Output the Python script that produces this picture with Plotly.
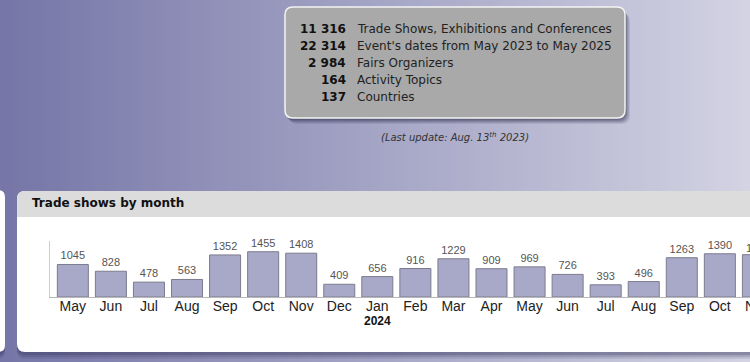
import plotly.graph_objects as go

# ---- data ----
months = ["May", "Jun", "Jul", "Aug", "Sep", "Oct", "Nov", "Dec",
          "Jan", "Feb", "Mar", "Apr", "May", "Jun", "Jul", "Aug", "Sep", "Oct", "Nov"]
shows = [1045, 828, 478, 563, 1352, 1455, 1408, 409,
         656, 916, 1229, 909, 969, 726, 393, 496, 1263, 1390, 1361]
year_labels = {8: "2024"}

stat_numbers = ["11 316", "22 314", "2 984", "164", "137"]
stat_labels = ["Trade Shows, Exhibitions and Conferences",
               "Event's dates from May 2023 to May 2025",
               "Fairs Organizers", "Activity Topics", "Countries"]
panel_title = "Trade shows by month"
update_note = "(Last update: Aug. 13<sup>th</sup> 2023)"

# ---- geometry helpers (pixel -> paper) ----
W, H = 750, 362
L, R, T, B = 50, 750, 241, 297
XR = [-0.6, (R - L) / 38.06 - 0.6]
def px(x):
    return (x - L) / (R - L)
def py(y):
    return (B - y) / (B - T)
def xdata_to_paper(v):
    return (v - XR[0]) / (XR[1] - XR[0])

def rpath(x0, y0, x1, y1, r, top=True, bottom=True):
    rt = r if top else 0
    rb = r if bottom else 0
    P = lambda x, y: f"{px(x):.5f},{py(y):.5f}"
    s = f"M {P(x0+rt, y0)} L {P(x1-rt, y0)} Q {P(x1, y0)} {P(x1, y0+rt)} "
    s += f"L {P(x1, y1-rb)} Q {P(x1, y1)} {P(x1-rb, y1)} "
    s += f"L {P(x0+rb, y1)} Q {P(x0, y1)} {P(x0, y1-rb)} "
    s += f"L {P(x0, y0+rt)} Q {P(x0, y0)} {P(x0+rt, y0)} Z"
    return s

shapes = []
# background gradient
c0 = (118, 118, 168)
c1 = (212, 212, 228)
step = 6
for i in range(0, W + step, step):
    t = min(i / W, 1)
    c = tuple(int(c0[k] + (c1[k] - c0[k]) * t) for k in range(3))
    shapes.append(dict(type="rect", xref="paper", yref="paper",
                       x0=px(i), x1=px(i + step + 1), y0=py(0), y1=py(H),
                       fillcolor=f"rgb{c}", line_width=0, layer="below"))

# info box shadow
for k, a in [(6, 0.10), (5, 0.12), (4, 0.15), (3, 0.18), (2, 0.2)]:
    shapes.append(dict(type="path", xref="paper", yref="paper",
                       path=rpath(285 + k - 2, 7 + k, 625 + k - 1, 118 + k, 9),
                       fillcolor=f"rgba(40,40,70,{a})", line_width=0, layer="below"))
# info box
shapes.append(dict(type="path", xref="paper", yref="paper",
                   path=rpath(285, 7, 625, 118, 8),
                   fillcolor="#a9a9a9", line=dict(color="#f4f4f4", width=1.5), layer="below"))

# panel shadows
for k, a in [(7, 0.12), (5, 0.18), (3, 0.25)]:
    shapes.append(dict(type="path", xref="paper", yref="paper",
                       path=rpath(17, 191 + k, 790, 352 + k, 8),
                       fillcolor=f"rgba(50,50,90,{a})", line_width=0, layer="below"))
    shapes.append(dict(type="path", xref="paper", yref="paper",
                       path=rpath(-40, 190 + k, 5, 352 + k, 8),
                       fillcolor=f"rgba(50,50,90,{a})", line_width=0, layer="below"))
# left panel
shapes.append(dict(type="path", xref="paper", yref="paper",
                   path=rpath(-40, 190, 5, 352, 7),
                   fillcolor="white", line_width=0, layer="below"))
# main panel
shapes.append(dict(type="path", xref="paper", yref="paper",
                   path=rpath(17, 191, 790, 352, 8),
                   fillcolor="white", line_width=0, layer="below"))
# header band
shapes.append(dict(type="path", xref="paper", yref="paper",
                   path=rpath(17, 191, 790, 217, 8, top=True, bottom=False),
                   fillcolor="#dcdcdc", line_width=0, layer="below"))

annotations = []
row_y = [29, 46, 62.5, 79.5, 97]
for n, lab, y in zip(stat_numbers, stat_labels, row_y):
    annotations.append(dict(x=px(348), y=py(y), xref="paper", yref="paper",
                            text=f"<b>{n}</b>", showarrow=False, xanchor="right", yanchor="middle",
                            font=dict(family="DejaVu Sans", size=12, color="#111")))
    annotations.append(dict(x=px(355), y=py(y), xref="paper", yref="paper",
                            text=lab, showarrow=False, xanchor="left", yanchor="middle",
                            font=dict(family="DejaVu Sans", size=12, color="#222")))
annotations.append(dict(x=px(455), y=py(137), xref="paper", yref="paper",
                        text=f"<i>{update_note}</i>", showarrow=False, xanchor="center", yanchor="middle",
                        font=dict(family="DejaVu Sans", size=10, color="#333")))
annotations.append(dict(x=px(30), y=py(203), xref="paper", yref="paper",
                        text=f"<b>{panel_title}</b>", showarrow=False, xanchor="left", yanchor="middle",
                        font=dict(family="DejaVu Sans", size=12, color="#111")))
# year label under January
for i, yr in year_labels.items():
    annotations.append(dict(x=i, y=py(321), xref="x", yref="paper",
                            text=f"<b>{yr}</b>", showarrow=False, xanchor="center", yanchor="middle",
                            font=dict(family="Liberation Sans", size=12, color="#111")))
# cut-off last month (outside the visible range)
last = len(months) - 1
annotations.append(dict(x=xdata_to_paper(last), y=py(306), xref="paper", yref="paper",
                        text=months[last], showarrow=False, xanchor="center", yanchor="middle",
                        font=dict(family="Liberation Sans", size=14, color="#222")))
annotations.append(dict(x=xdata_to_paper(last), y=shows[last], xref="paper", yref="y",
                        text=str(shows[last]), showarrow=False, xanchor="center", yanchor="bottom",
                        yshift=-1, font=dict(family="Liberation Sans", size=11, color="#555")))

xs = list(range(len(months)))

fig = go.Figure(go.Bar(
    x=xs, y=shows, text=[str(v) for v in shows], textposition="outside",
    cliponaxis=False,
    textfont=dict(family="Liberation Sans", size=11, color="#555"),
    marker=dict(color="#a8a8c8", line=dict(color="#7c7c8e", width=1)),
    width=0.815, hoverinfo="skip",
))
fig.update_layout(
    width=W, height=H, margin=dict(l=L, r=W - R, t=T, b=H - B),
    paper_bgcolor="rgb(118,118,168)", plot_bgcolor="rgba(0,0,0,0)",
    showlegend=False, shapes=shapes, annotations=annotations,
    xaxis=dict(range=XR, tickvals=xs, ticktext=months, ticklabelstandoff=-4,
               showline=True, linecolor="#b8b8b8", linewidth=1, ticks="", showgrid=False,
               zeroline=False, tickfont=dict(family="Liberation Sans", size=14, color="#222"),
               fixedrange=True),
    yaxis=dict(range=[0, 1800], showline=True, linecolor="#cccccc", linewidth=1,
               showticklabels=False, ticks="", showgrid=False, zeroline=False, fixedrange=True),
)
fig.write_html("out.html", config={"displayModeBar": False},
               post_script="document.body.style.margin='0px';document.body.style.overflow='hidden';")
